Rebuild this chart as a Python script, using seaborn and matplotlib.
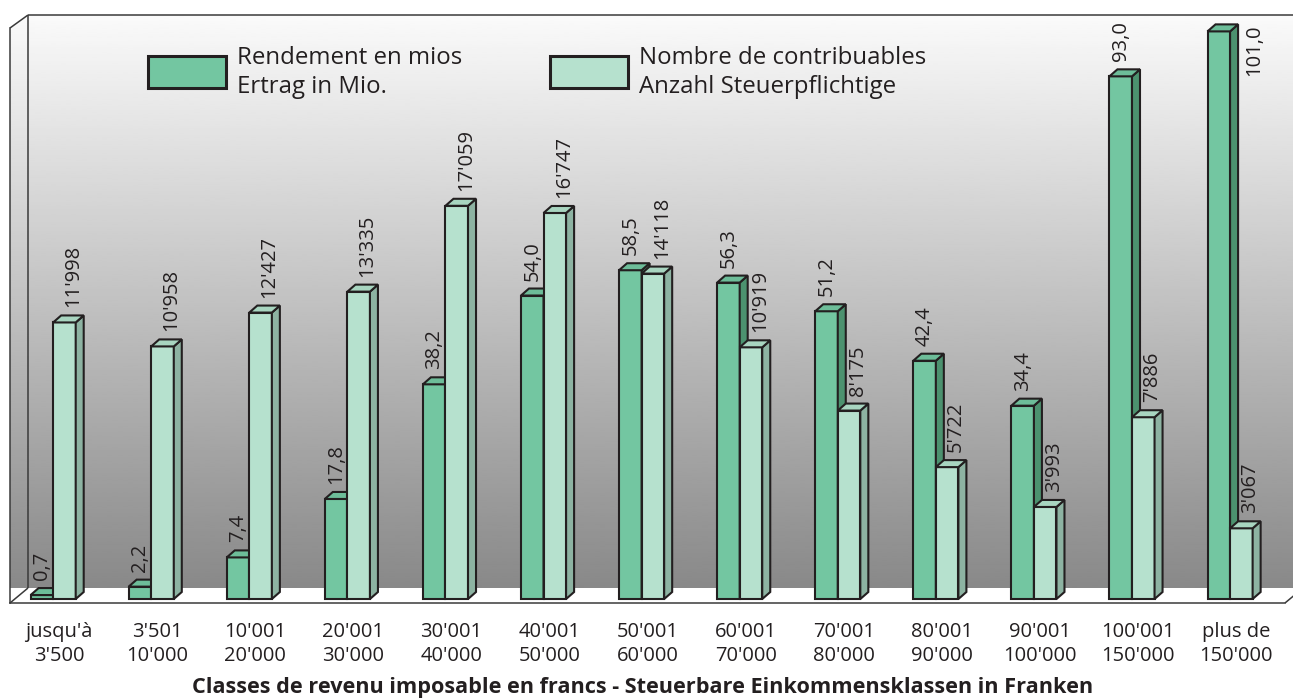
import numpy as np
import pandas as pd
import matplotlib
matplotlib.use("Agg")
import matplotlib.pyplot as plt
from matplotlib.patches import Polygon, Rectangle
import seaborn as sns

# données
classes = ["jusqu'à\n3'500", "3'501\n10'000", "10'001\n20'000", "20'001\n30'000",
           "30'001\n40'000", "40'001\n50'000", "50'001\n60'000", "60'001\n70'000",
           "70'001\n80'000", "80'001\n90'000", "90'001\n100'000", "100'001\n150'000",
           "plus de\n150'000"]
rendement = [0.7, 2.2, 7.4, 17.8, 38.2, 54.0, 58.5, 56.3, 51.2, 42.4, 34.4, 93.0, 101.0]
contribuables = [11998, 10958, 12427, 13335, 17059, 16747, 14118, 10919, 8175, 5722,
                 3993, 7886, 3067]
leg_rendement = "Rendement en mios\nErtrag in Mio."
leg_contrib = "Nombre de contribuables\nAnzahl Steuerpflichtige"
xlabel = "Classes de revenu imposable en francs - Steuerbare Einkommensklassen in Franken"

df = pd.DataFrame({'classe': classes, 'rendement': rendement, 'contribuables': contribuables})

# couleurs
dark, dark_side, dark_top = '#73C6A1', '#4C926F', '#6DBD99'
light, light_side, light_top = '#B6E1CE', '#8DB3A2', '#A8D5C0'
edge = '#231F20'
txt = '#231F20'

W, H = 1293, 699
sns.set_theme(style="white")
plt.rcParams['font.family'] = ['Open Sans', 'DejaVu Sans']

fig = plt.figure(figsize=(W / 100, H / 100), dpi=100)

# --- fond 3D (coordonnées en pixels)
bg = fig.add_axes([0, 0, 1, 1])
bg.set_xlim(0, W)
bg.set_ylim(H, 0)
bg.axis('off')

wall = Polygon([(10, 28), (28, 15), (W + 20, 15), (W + 20, 588), (28, 588), (10, 603)],
               closed=True, facecolor='none', edgecolor='none')
bg.add_patch(wall)
grad = np.linspace(250, 137, 256).reshape(-1, 1)
im = bg.imshow(grad, cmap='gray', vmin=0, vmax=255, extent=(0, W + 20, 588, 15),
               aspect='auto', interpolation='bilinear')
im.set_clip_path(wall)
bg.set_xlim(0, W)
bg.set_ylim(H, 0)

floor = Polygon([(10, 603), (28, 588), (W + 20, 588), (1303, 588), (1285, 603)],
                closed=True, facecolor='white', edgecolor='none')
bg.add_patch(floor)
lc = '#3a3a3a'
for xs, ys in [([10, 28], [28, 15]), ([28, W], [15, 15]), ([28, 28], [15, 588]),
               ([10, 28], [603, 588]), ([1285, 1303], [603, 588])]:
    bg.plot(xs, ys, color=lc, lw=1.1, solid_capstyle='butt')

# --- légende
for x0, col, lab in [(148, dark, leg_rendement), (550, light, leg_contrib)]:
    bg.add_patch(Rectangle((x0, 56), 78, 32, facecolor=col, edgecolor=edge, lw=2.2))
    for k, line in enumerate(lab.split('\n')):
        bg.text(x0 + 89, 64 + 29 * k, line, fontsize=17.3, color=txt, va='baseline', ha='left')

# --- barres
left, right, bottom, top = 10, 1285, 603, 28
ax = fig.add_axes([left / W, (H - bottom) / H, (right - left) / W, (bottom - top) / H])
ax.patch.set_visible(False)

py_dark = 5.62      # px par unité
py_light = 0.02305
px_x = (right - left) / len(classes)
ax_h = bottom - top

bw = 0.23
off_dark, off_light = -0.175, 0.055
depth_x, depth_y = 8, 7

sns.barplot(data=df, x='classe', y='rendement', ax=ax, color=dark, width=bw,
            edgecolor=edge, linewidth=1.5, saturation=1, errorbar=None)
ax2 = ax.twinx()
sns.barplot(data=df, x='classe', y='contribuables', ax=ax2, color=light, width=bw,
            edgecolor=edge, linewidth=1.5, saturation=1, errorbar=None)
ax2.patch.set_visible(False)

for a, py in [(ax, py_dark), (ax2, py_light)]:
    a.set_xlim(-0.5, len(classes) - 0.5)
    a.set_ylim(-4 / py, (ax_h - 4) / py)

labels = []
for a, py, off, side_c, top_c, fmt, lab_dx in [
        (ax, py_dark, off_dark, dark_side, dark_top,
         lambda v: f"{v:.1f}".replace('.', ','), 0),
        (ax2, py_light, off_light, light_side, light_top,
         lambda v: f"{int(v):,}".replace(',', "'"), 9)]:
    dx = depth_x / px_x
    dy = depth_y / py
    for p in a.patches:
        p.set_x(p.get_x() + off)
        x0 = p.get_x()
        x1 = x0 + p.get_width()
        h = p.get_height()
        a.add_patch(Polygon([(x1, 0), (x1, h), (x1 + dx, h + dy), (x1 + dx, dy)],
                            closed=True, facecolor=side_c, edgecolor=edge, lw=1.5,
                            clip_on=False, joinstyle='miter'))
        a.add_patch(Polygon([(x0, h), (x1, h), (x1 + dx, h + dy), (x0 + dx, h + dy)],
                            closed=True, facecolor=top_c, edgecolor=edge, lw=1.5,
                            clip_on=False, joinstyle='miter'))
        t = a.text((x0 + x1) / 2 + lab_dx / px_x, h + 15 / py, fmt(h), rotation=90,
                   ha='center', va='bottom', fontsize=14.5, color=txt, clip_on=False)
        labels.append((t, a, x1 + dx, h + dy, px_x))

# étiquettes trop hautes -> à droite de la barre
fig.canvas.draw()
for t, a, xr, ytop, pxx in labels:
    bb = t.get_window_extent()
    if bb.y1 > H - 15:
        t.set_position((xr + 6 / pxx, ytop))
        t.set_ha('left')
        t.set_va('top')

# axes
for a in (ax, ax2):
    for s in ['top', 'right', 'left']:
        a.spines[s].set_visible(False)
    a.set_ylabel('')
    a.set_yticks([])
ax.spines['bottom'].set_color(lc)
ax.spines['bottom'].set_linewidth(1.1)
ax2.spines['bottom'].set_visible(False)
ax.spines['left'].set_visible(True)
ax.spines['left'].set_color(lc)
ax.spines['left'].set_linewidth(1.1)

ax.set_xticks(range(len(classes)))
ax.set_xticklabels(classes, fontsize=14.5, color=txt, linespacing=1.25)
ax.set_xticks(np.arange(len(classes) + 1) - 0.5, minor=True)
ax.tick_params(axis='x', which='major', length=0, pad=14)
ax.tick_params(axis='x', which='minor', length=9, width=1.1, color=lc, direction='out')
ax.set_xlabel('')
ax2.tick_params(axis='x', length=0)

fig.text(643 / W, (H - 693) / H, xlabel, fontsize=15.6, fontweight='bold', color=txt,
         ha='center', va='baseline')

fig.savefig('out.png', dpi=100)
